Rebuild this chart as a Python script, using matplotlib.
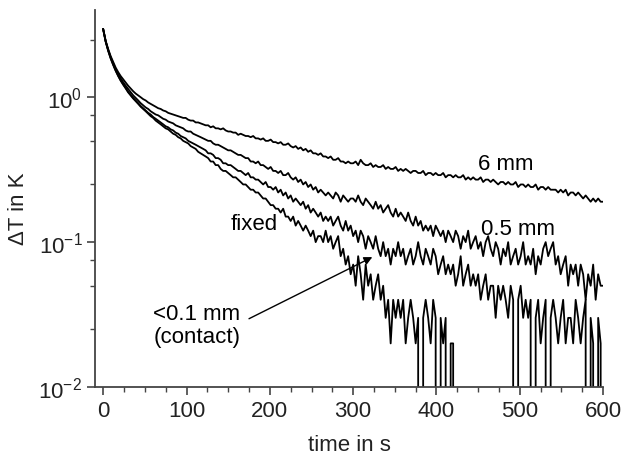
import numpy as np
import matplotlib
matplotlib.use("Agg")
import matplotlib.pyplot as plt
from matplotlib.ticker import FixedLocator, MultipleLocator

plt.rcParams['font.family'] = ['Liberation Sans', 'DejaVu Sans']
plt.rcParams['mathtext.fontset'] = 'custom'
plt.rcParams['mathtext.rm'] = 'Liberation Sans'
plt.rcParams['mathtext.it'] = 'Liberation Sans:italic'
plt.rcParams['axes.unicode_minus'] = False
plt.rcParams['font.size'] = 16

# sampling step of the read-off values, in s
dt = 3

# temperature difference in units of 0.01 K, one value every dt seconds
six_mm = [
    295, 245, 215, 192, 175, 160, 149, 140, 133, 126,
    120, 115, 110, 106, 103, 100, 97, 95, 92, 90,
    88, 86, 84, 83, 81, 80, 78, 77, 76, 75,
    74, 73, 72, 72, 70, 69, 69, 67, 67, 66,
    65, 64, 64, 62, 63, 61, 61, 60, 61, 59,
    58, 58, 57, 57, 55, 56, 55, 54, 54, 53,
    54, 52, 52, 51, 52, 50, 50, 51, 49, 49,
    48, 49, 47, 47, 48, 46, 45, 46, 44, 45,
    43, 44, 42, 43, 41, 41, 40, 41, 39, 39,
    38, 39, 37, 37, 38, 36, 36, 35, 36, 35,
    35, 36, 34, 37, 35, 34, 34, 35, 33, 34,
    33, 33, 34, 32, 33, 32, 32, 33, 31, 32,
    31, 32, 31, 30, 31, 31, 30, 30, 31, 29,
    30, 30, 29, 30, 29, 29, 30, 28, 29, 29,
    28, 29, 28, 28, 29, 27, 28, 27, 28, 27,
    27, 28, 26, 27, 27, 26, 27, 26, 25, 26,
    26, 25, 26, 25, 25, 26, 24, 25, 25, 24,
    25, 24, 24, 25, 23, 24, 24, 23, 24, 23,
    23, 23, 22, 23, 22, 23, 21, 22, 22, 21,
    22, 21, 20, 21, 20, 19, 20, 19, 20, 19, 19,
]

half_mm = [
    295, 243, 212, 189, 171, 156, 144, 135, 127, 120,
    114, 108, 103, 99, 95, 91, 88, 85, 83, 80,
    78, 76, 75, 73, 71, 70, 68, 67, 66, 64,
    63, 62, 61, 59, 58, 58, 56, 55, 54, 53,
    52, 51, 50, 50, 48, 47, 47, 46, 45, 44,
    43, 43, 42, 41, 40, 40, 39, 38, 38, 36,
    36, 35, 36, 34, 34, 33, 32, 33, 31, 31,
    30, 31, 29, 29, 30, 28, 27, 28, 26, 27,
    25, 26, 24, 25, 23, 24, 22, 23, 22, 21,
    22, 21, 20, 22, 21, 19, 21, 20, 19, 20,
    20, 19, 21, 19, 18, 20, 19, 18, 17, 19,
    17, 18, 16, 17, 18, 16, 15, 17, 15, 16,
    15, 14, 16, 14, 13, 15, 13, 14, 12, 13,
    12, 13, 11, 13, 12, 11, 12, 10, 12, 11,
    10, 12, 11, 9, 11, 10, 12, 9, 10, 11,
    9, 10, 8, 10, 11, 9, 8, 10, 9, 7,
    9, 8, 10, 7, 8, 9, 7, 8, 10, 7,
    8, 7, 9, 6, 8, 7, 9, 10, 8, 9,
    10, 7, 8, 6, 7, 8, 5, 7, 6, 7,
    5, 7, 6, 4, 6, 5, 7, 4, 6, 5, 5,
]

fixed = [
    295, 242, 210, 186, 168, 153, 141, 131, 123, 116,
    109, 104, 99, 95, 91, 87, 84, 81, 78, 76,
    73, 71, 69, 67, 65, 63, 62, 60, 59, 57,
    56, 54, 53, 52, 50, 49, 48, 47, 46, 45,
    44, 43, 41, 41, 40, 38, 38, 37, 35, 35,
    34, 34, 33, 32, 31, 31, 30, 29, 30, 28,
    28, 27, 27, 26, 25, 26, 24, 24, 23, 24,
    22, 23, 21, 22, 20, 21, 19, 20, 19, 18,
    19, 17, 18, 16, 17, 16, 15, 16, 14, 15,
    14, 15, 13, 14, 15, 13, 12, 14, 12, 13,
    11, 12, 10, 12, 11, 9, 11, 10, 9, 11,
    9, 8, 10, 8, 9, 7, 9, 8, 10, 8,
    9, 7, 8, 9, 7, 8, 10, 8, 7, 9,
    8, 7, 9, 8, 6, 7, 8, 6, 7, 6,
    7, 5, 6, 8, 5, 6, 7, 5, 6, 5,
    6, 4, 5, 6, 4, 5, 5, 3, 5, 4,
    5, 4, 3, 5, 4, 0, 4, 5, 3, 4,
    3, 4, 0, 3, 4, 2, 3, 4, 0, 3,
    4, 3, 2, 3, 4, 2, 3, 3, 2, 4,
    3, 2, 3, 4, 0, 3, 2, 0, 3, 2, 0,
]

contact = [
    295, 242, 209, 185, 167, 152, 140, 130, 122, 115,
    108, 103, 98, 94, 90, 86, 83, 80, 77, 74,
    72, 69, 67, 65, 63, 61, 60, 58, 56, 55,
    53, 52, 50, 49, 48, 46, 45, 44, 42, 41,
    40, 39, 38, 36, 36, 34, 34, 32, 31, 31,
    30, 29, 28, 28, 27, 26, 25, 25, 24, 23,
    23, 22, 22, 21, 20, 20, 19, 18, 18, 17,
    17, 16, 17, 15, 15, 14, 15, 13, 14, 13,
    12, 13, 12, 11, 12, 10, 11, 11, 10, 12,
    10, 11, 9, 10, 11, 8, 9, 7, 8, 6,
    7, 5, 8, 6, 4, 7, 5, 6, 4, 5,
    6, 4, 5, 3, 4, 2, 4, 3, 4, 3,
    4, 2, 3, 4, 3, 2, 3, 0, 3, 4,
    3, 2, 4, 3, 0, 3, 2, 3, 0, 2,
    2, 0,
]

fig = plt.figure(figsize=(6.24, 4.6), dpi=100)
ax = fig.add_axes([0.152, 0.1565, 0.8146, 0.8196])

for series in (six_mm, half_mm, fixed, contact):
    vals = np.array(series) / 100.0
    t = np.arange(len(vals)) * dt
    ax.plot(t, vals, color='black', lw=1.3)

ax.set_yscale('log', nonpositive='clip')
ax.set_xlim(-10, 600)
ax.set_ylim(0.01, 4)

ax.xaxis.set_major_locator(MultipleLocator(100))
ax.xaxis.set_minor_locator(MultipleLocator(25))
ax.yaxis.set_minor_locator(FixedLocator([0.025, 0.05, 0.075, 0.25, 0.5, 0.75, 2.5]))
ax.yaxis.set_minor_formatter(plt.NullFormatter())

for side in ('top', 'right'):
    ax.spines[side].set_visible(False)
for side in ('left', 'bottom'):
    ax.spines[side].set_color('#444444')
    ax.spines[side].set_linewidth(1.3)

ax.tick_params(which='major', direction='out', length=6, width=1.2,
               color='#444444', labelsize=16, labelcolor='#222222', pad=3)
ax.tick_params(which='minor', direction='out', length=3.5, width=1.0,
               color='#444444')

ax.set_xlabel('time in s', fontsize=16, color='#222222')
ax.set_ylabel('ΔT in K', fontsize=16, color='#222222')
ax.xaxis.set_label_coords(0.5, -0.125)
ax.yaxis.set_label_coords(-0.13, 0.475)

ax.text(483, 0.347, '6 mm', ha='center', va='center', fontsize=16)
ax.text(498, 0.1235, '0.5 mm', ha='center', va='center', fontsize=16)
ax.text(181, 0.134, 'fixed', ha='center', va='center', fontsize=16)
ax.text(60, 0.0267, '<0.1 mm\n(contact)', ha='left', va='center',
        fontsize=16, linespacing=1.15)
ax.annotate('', xy=(323, 0.0788), xytext=(175, 0.0296),
            arrowprops=dict(arrowstyle='-|>', lw=1.0, color='black',
                            mutation_scale=12, shrinkA=0, shrinkB=0))

fig.savefig('out.png', dpi=100)
